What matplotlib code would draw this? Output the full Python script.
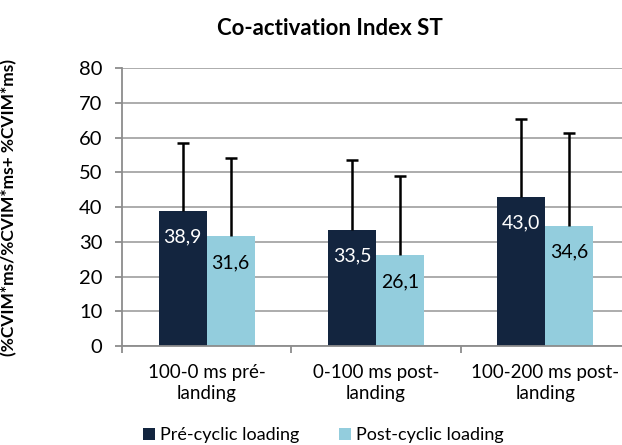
import numpy as np
import matplotlib
matplotlib.use("Agg")
import matplotlib.pyplot as plt

plt.rcParams['font.family'] = ['Lato', 'DejaVu Sans']

categories = ['100-0 ms pré-\nlanding', '0-100 ms post-\nlanding', '100-200 ms post-\nlanding']
series_names = ['Pré-cyclic loading', 'Post-cyclic loading']
pre_values = [38.9, 33.5, 43.0]
post_values = [31.6, 26.1, 34.6]
pre_err = [19.4, 20.1, 22.3]
post_err = [22.6, 22.7, 26.8]
value_labels_pre = ['38,9', '33,5', '43,0']
value_labels_post = ['31,6', '26,1', '34,6']

dark = '#13253f'
light = '#93cddd'

fig = plt.figure(figsize=(6.22, 4.45), dpi=100)
ax = fig.add_axes([0.196, 0.2225, 0.817, 0.6245])

x = np.arange(len(categories))
w = 0.284

b1 = ax.bar(x - w / 2, pre_values, width=w, color=dark, label=series_names[0], zorder=2)
b2 = ax.bar(x + w / 2, post_values, width=w, color=light, label=series_names[1], zorder=2)

# plus-only error bars: hide the lower caps
for xs, vals, errs in [(x - w / 2, pre_values, pre_err), (x + w / 2, post_values, post_err)]:
    eb = ax.errorbar(xs, vals, yerr=[np.zeros(3), errs], fmt='none',
                     ecolor='black', elinewidth=1.8, capsize=4.5, capthick=1.8, zorder=3)
    eb[1][0].set_visible(False)

for xi, v, t in zip(x - w / 2, pre_values, value_labels_pre):
    ax.annotate(t, (xi, v), xytext=(0, -19), textcoords='offset points',
                ha='center', va='center', color='white', fontsize=14, zorder=4)
for xi, v, t in zip(x + w / 2, post_values, value_labels_post):
    ax.annotate(t, (xi, v), xytext=(0, -19), textcoords='offset points',
                ha='center', va='center', color='black', fontsize=14, zorder=4)

ax.set_xlim(-0.5, 2.5)
ax.set_ylim(0, 80)
ax.set_yticks(range(0, 81, 10))
ax.yaxis.grid(True, color='#a6a6a6', linewidth=1.3, zorder=0)
ax.set_axisbelow(True)

for s in ['top', 'right']:
    ax.spines[s].set_visible(False)
ax.spines['left'].set_color('#8c8c8c')
ax.spines['bottom'].set_color('#8c8c8c')
ax.spines['left'].set_linewidth(1.3)
ax.spines['bottom'].set_linewidth(1.3)

ax.set_xticks(x)
ax.set_xticklabels(categories, fontsize=13.5, linespacing=1.3)
ax.tick_params(axis='x', length=0, pad=13)
ax.set_xticks([-0.5, 0.5, 1.5, 2.5], minor=True)
ax.tick_params(axis='x', which='minor', length=5, color='#8c8c8c', width=1.3)
ax.tick_params(axis='y', length=5, color='#8c8c8c', width=1.3, labelsize=14.5, pad=9)

ax.set_ylabel('(%CVIM*ms/%CVIM*ms+ %CVIM*ms)', fontsize=12.5, fontweight='bold')
ax.yaxis.set_label_coords(-0.205, 0.5)
fig.text(0.53, 0.937, 'Co-activation Index ST', ha='center', va='center',
         fontsize=16, fontweight='bold')

fig.legend(handles=[b1, b2], loc='center', bbox_to_anchor=(0.52, 0.022), ncol=2,
           frameon=False, fontsize=13, handlelength=0.65, handleheight=0.65,
           handletextpad=0.3, columnspacing=2.2)

fig.savefig('out.png', dpi=100)
